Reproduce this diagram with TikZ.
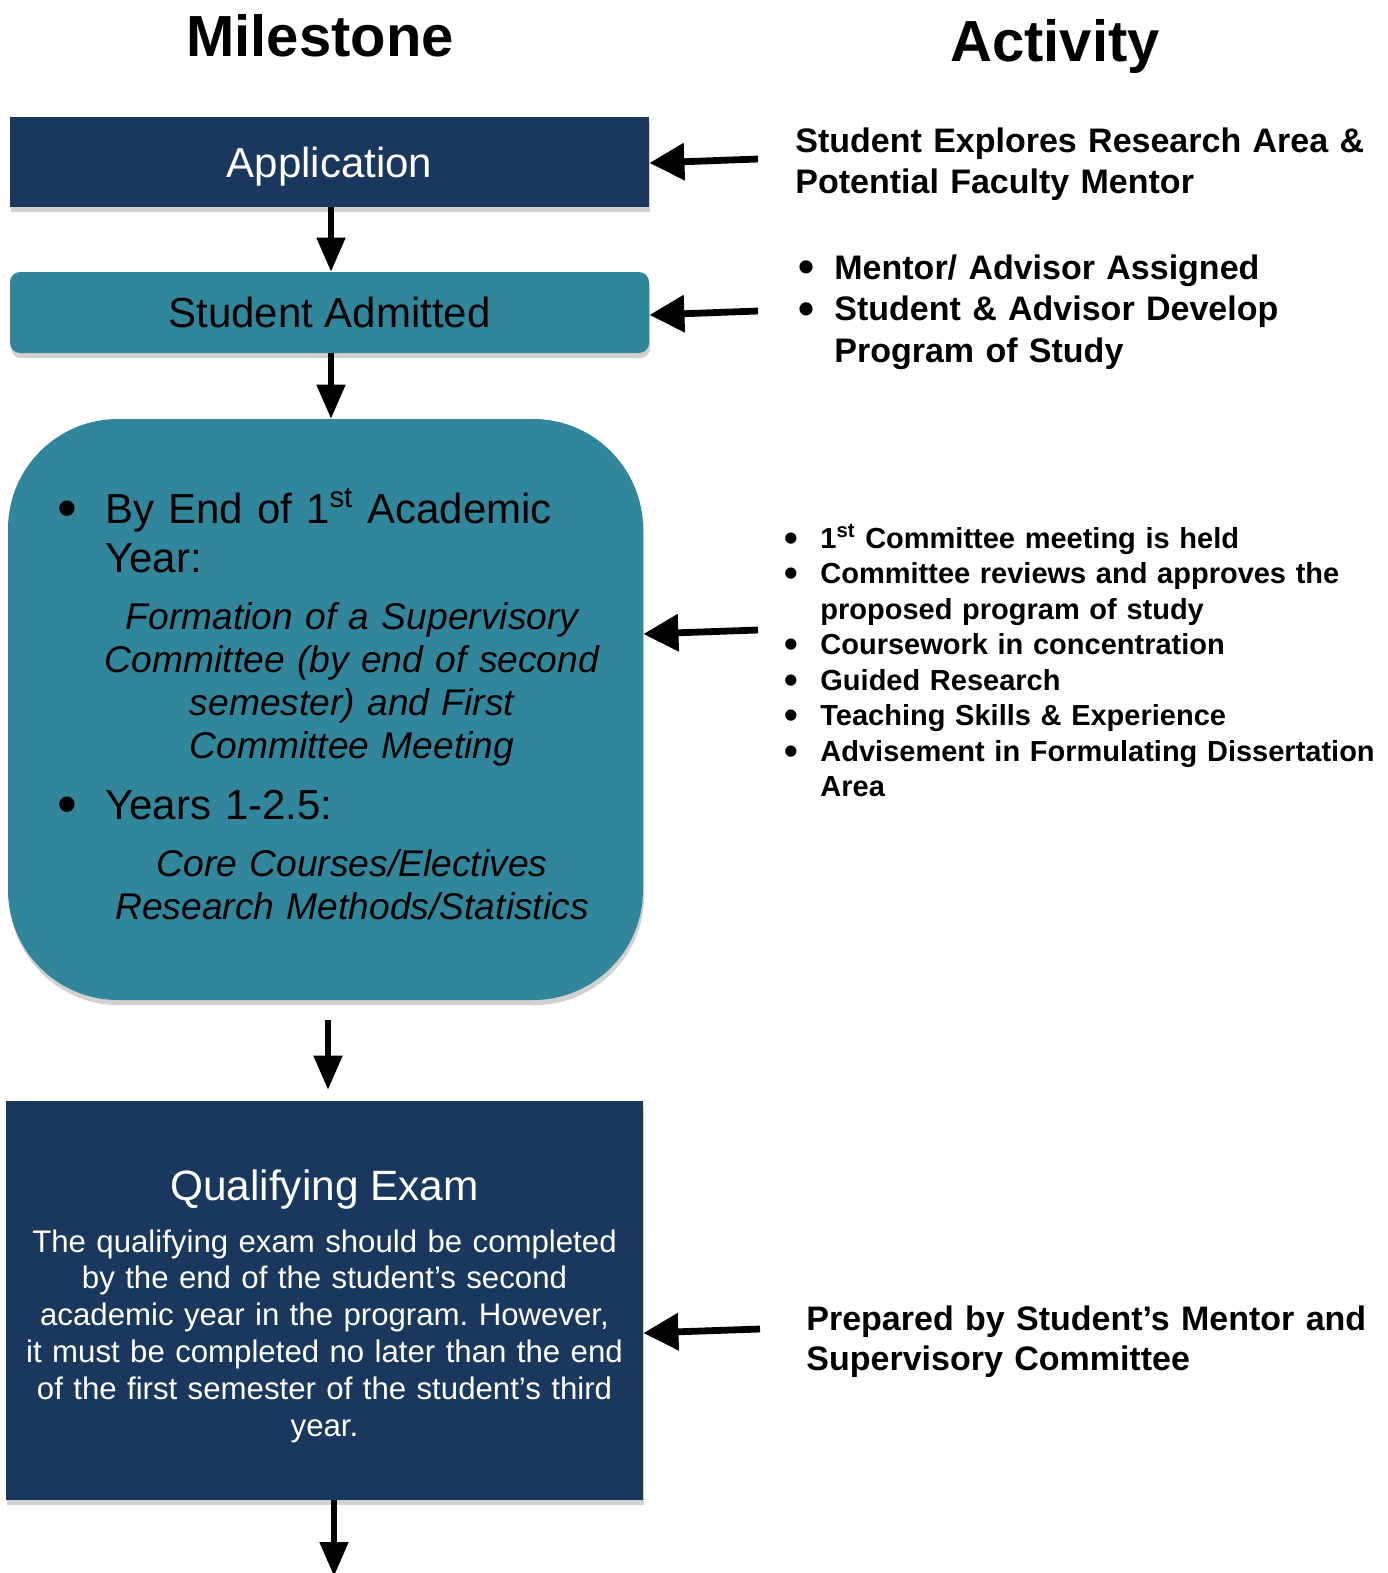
\documentclass[tikz,border=0pt]{standalone}
\usepackage{fontspec}
\setmainfont{Liberation Sans}
\usetikzlibrary{arrows.meta,shadows}

\definecolor{stagenavy}{RGB}{26,55,93}
\definecolor{stageteal}{RGB}{49,134,156}

% a slightly heavier bullet than the font's own
\newcommand{\fatbullet}{\raisebox{-0.11em}{\scalebox{1.35}{\textbullet}}}
% one bullet item with hanging indent: #1 = indent, #2 = text
\newcommand{\hangbullet}[2]{\noindent\hangindent=#1\hangafter=1\makebox[#1][l]{\fatbullet}#2\par}

\tikzset{
  boxshadow/.style={drop shadow={shadow xshift=0.6pt,shadow yshift=-2.6pt,fill=black!18,opacity=1}},
  navybox/.style={fill=stagenavy,text=white,inner sep=0pt,boxshadow},
  tealbox/.style={fill=stageteal,text=black,inner sep=0pt,boxshadow},
  flowarrow/.style={-{Triangle[length=17pt,width=14pt]},line width=2.6pt},
  feedarrow/.style={-{Triangle[length=17.5pt,width=18pt]},line width=3.4pt},
  acttext/.style={inner sep=0pt,anchor=base west,align=left,text width=#1},
  acttext/.default=330pt
}

\begin{document}
\frenchspacing
\begin{tikzpicture}[x=0.5pt,y=0.5pt,yscale=-1,xscale=1]
  \useasboundingbox (0,0) rectangle (1387,1573);

  % Column heads
  \node [anchor=base,inner sep=0pt,font=\fontsize{29}{34}\selectfont\bfseries] (headM) at (320,57) {Milestone};
  \node [anchor=base,inner sep=0pt,font=\fontsize{29}{34}\selectfont\bfseries] (headA) at (1055,62) {Activity};

  %Shape: Rectangle [application]
  \node [navybox,minimum width=319.5pt,minimum height=45pt,text depth=0pt,font=\fontsize{21}{25}\selectfont] (app) at (329.5,162) {Application};
  %Shape: Rounded rectangle [admitted]
  \node [tealbox,rounded corners=5pt,minimum width=319.5pt,minimum height=40.5pt,text depth=0pt,font=\fontsize{21}{25}\selectfont] (adm) at (329.5,312.5) {Student Admitted};
  %Shape: Rounded rectangle [first years]
  \node [tealbox,rounded corners=55pt,minimum width=317.5pt,minimum height=290.5pt] (years) at (325.5,709.5) {};
  %Shape: Rectangle [qualifying exam]
  \node [navybox,minimum width=318.5pt,minimum height=199.5pt] (qual) at (324.5,1300.5) {};

  % Text Node
  \node [acttext=300pt,font=\fontsize{21}{24.5}\selectfont] (yrA) at (57,523)
    {\hangbullet{24pt}{By End of 1\textsuperscript{st} Academic\newline Year:}};
  % Text Node
  \node [inner sep=0pt,anchor=base,align=center,text width=280pt,font=\fontsize{18.6}{21.5}\selectfont\itshape] (yrAtxt) at (352,629)
    {Formation of a Supervisory\\Committee (by end of second\\semester) and First\\Committee Meeting};
  % Text Node
  \node [acttext=300pt,font=\fontsize{21}{24.5}\selectfont] (yrB) at (57,819)
    {\hangbullet{24pt}{Years 1-2.5:}};
  % Text Node
  \node [inner sep=0pt,anchor=base,align=center,text width=280pt,font=\fontsize{18.6}{21.5}\selectfont\itshape] (yrBtxt) at (352,876)
    {Core Courses/Electives\\Research Methods/Statistics};

  % Text Node
  \node [inner sep=0pt,anchor=base,text=white,font=\fontsize{21.2}{26}\selectfont] (qualhead) at (324.5,1200) {Qualifying Exam};
  % Text Node
  \node [inner sep=0pt,anchor=base,align=center,text width=312pt,text=white,font=\fontsize{15.6}{18.4}\selectfont] (qualtxt) at (324.5,1252)
    {The qualifying exam should be completed\\by the end of the student’s second\\academic year in the program. However,\\it must be completed no later than the end\\of the first semester of the student’s third\\year.};

  % Activity column
  \node [acttext,font=\fontsize{17}{20.5}\selectfont\bfseries] (act1) at (795,153)
    {Student Explores Research Area \&\\Potential Faculty Mentor};
  \node [acttext,font=\fontsize{17}{20.8}\selectfont\bfseries] (act2) at (798,279)
    {\setlength{\parskip}{0pt}%
     \hangbullet{18pt}{Mentor/ Advisor Assigned}%
     \hangbullet{18pt}{Student \& Advisor Develop\newline Program of Study}};
  \node [acttext,font=\fontsize{14.5}{17.75}\selectfont\bfseries] (act3) at (784,548)
    {\setlength{\parskip}{0pt}%
     \hangbullet{18pt}{1\textsuperscript{st} Committee meeting is held}%
     \hangbullet{18pt}{Committee reviews and approves the\newline proposed program of study}%
     \hangbullet{18pt}{Coursework in concentration}%
     \hangbullet{18pt}{Guided Research}%
     \hangbullet{18pt}{Teaching Skills \& Experience}%
     \hangbullet{18pt}{Advisement in Formulating Dissertation\newline Area}};
  \node [acttext,font=\fontsize{17}{20}\selectfont\bfseries] (act4) at (806,1330)
    {Prepared by Student’s Mentor and\\Supervisory Committee};

  % arrow tails on the activity side
  \coordinate (in1) at (758,159);
  \coordinate (in2) at (758,311);
  \coordinate (in3) at (758,630);
  \coordinate (in4) at (760,1329);
  \coordinate (next) at (334,1576);

  % Flow arrows
  \draw [flowarrow] (app.south -| 331,0) -- (adm.north -| 331,0);
  \draw [flowarrow] (adm.south -| 331,0) -- (years.north -| 331,0);
  \draw [flowarrow,shorten <=10pt,shorten >=5.5pt] (years.south -| 328,0) -- (qual.north -| 328,0);
  \draw [flowarrow] (qual.south -| next) -- (next);

  % Activity arrows
  \draw [feedarrow] (in1) -- (app.east |- 0,163);
  \draw [feedarrow] (in2) -- (adm.east |- 0,315);
  \draw [feedarrow] (in3) -- (years.east |- 0,634);
  \draw [feedarrow] (in4) -- (qual.east |- 0,1333);
\end{tikzpicture}
\end{document}
